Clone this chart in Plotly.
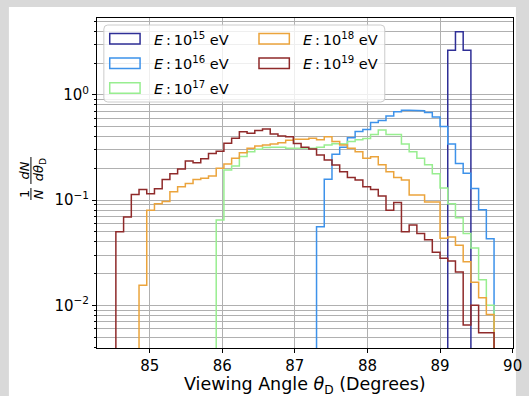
import numpy as np
import plotly.graph_objects as go

# ---------------- data ----------------
BIN_START, BIN_STOP, N_BINS = 84.534, 89.744, 49      # common histogram grid (degrees)

energy_labels = ["15", "16", "17", "18", "19"]        # E = 10^x eV
first_bin = [43, 26, 13, 3, 0]                         # index of first non-empty bin per series

density_1e15 = [2.65, 3.96, 2.65]
density_1e16 = [0.0557, 0.158, 0.272, 0.318, 0.390, 0.447, 0.468, 0.545, 0.570, 0.630,
                0.690, 0.712, 0.712, 0.705, 0.680, 0.615, 0.500, 0.340, 0.223, 0.180,
                0.129, 0.081, 0.043]
density_1e17 = [0.0645, 0.193, 0.211, 0.259, 0.288, 0.304, 0.315, 0.318, 0.318, 0.311,
                0.315, 0.315, 0.312, 0.318, 0.334, 0.345, 0.340, 0.360, 0.373, 0.385,
                0.420, 0.464, 0.420, 0.420, 0.340, 0.288, 0.249, 0.216, 0.178, 0.130,
                0.092, 0.068, 0.048, 0.035, 0.0175, 0.0100]
density_1e18 = [0.0155, 0.080, 0.092, 0.097, 0.120, 0.134, 0.144, 0.157, 0.161, 0.169,
                0.200, 0.220, 0.249, 0.282, 0.311, 0.327, 0.334, 0.341, 0.350, 0.370,
                0.378, 0.378, 0.387, 0.373, 0.400, 0.360, 0.334, 0.311, 0.288, 0.249,
                0.258, 0.216, 0.186, 0.164, 0.155, 0.112, 0.112, 0.096, 0.096, 0.0433,
                0.0446, 0.0373, 0.0260, 0.0166, 0.0118, 0.0082]
density_1e19 = [0.050, 0.069, 0.113, 0.126, 0.115, 0.128, 0.157, 0.178, 0.197, 0.235,
                0.226, 0.247, 0.277, 0.290, 0.347, 0.387, 0.445, 0.432, 0.457, 0.472,
                0.425, 0.405, 0.400, 0.345, 0.318, 0.305, 0.268, 0.240, 0.215, 0.186,
                0.164, 0.155, 0.134, 0.126, 0.109, 0.080, 0.095, 0.050, 0.058, 0.048,
                0.042, 0.032, 0.028, 0.0264, 0.0207, 0.0065, 0.0100, 0.0055, 0.0055]

series = [density_1e15, density_1e16, density_1e17, density_1e18, density_1e19]
colors = ["#2f2f96", "#3d92ea", "#98ee90", "#eba43c", "#8f2a2a"]

x_ticks = [85, 86, 87, 88, 89, 90]
y_ticks = [0.01, 0.1, 1]
y_ticktext = ["10<sup>−2</sup>", "10<sup>−1</sup>", "10<sup>0</sup>"]
y_minor = [m * 10.0 ** d for d in (-3, -2, -1, 0) for m in range(2, 10)]

# ---------------- layout helpers ----------------
W, H = 529, 396
L, R, T, B = 97, 7, 18, 48
PW, PH = W - L - R, H - T - B
FONT = "DejaVu Sans"


def px(x):
    return (x - L) / PW


def py(y):
    return (H - B - y) / PH


edges = np.linspace(BIN_START, BIN_STOP, N_BINS + 1)
FLOOR = 1e-5

fig = go.Figure()
for vals, start, col in zip(series, first_bin, colors):
    e = edges[start:start + len(vals) + 1]
    xs = np.repeat(e, 2)
    ys = np.concatenate([[FLOOR], np.repeat(vals, 2), [FLOOR]])
    fig.add_trace(go.Scatter(x=xs, y=ys, mode="lines",
                             line=dict(color=col, width=1.5),
                             showlegend=False, hoverinfo="skip"))

shapes = []
annotations = []

# white figure area on grey page
shapes.append(dict(type="rect", xref="paper", yref="paper",
                   x0=px(7), x1=px(525), y0=py(7), y1=py(H + 5),
                   fillcolor="white", line=dict(width=0), layer="below"))


def rrect_path(x0, y0, x1, y1, r):
    return (f"M {px(x0 + r)},{py(y0)} L {px(x1 - r)},{py(y0)} "
            f"Q {px(x1)},{py(y0)} {px(x1)},{py(y0 + r)} L {px(x1)},{py(y1 - r)} "
            f"Q {px(x1)},{py(y1)} {px(x1 - r)},{py(y1)} L {px(x0 + r)},{py(y1)} "
            f"Q {px(x0)},{py(y1)} {px(x0)},{py(y1 - r)} L {px(x0)},{py(y0 + r)} "
            f"Q {px(x0)},{py(y0)} {px(x0 + r)},{py(y0)} Z")


# legend box
shapes.append(dict(type="path", xref="paper", yref="paper",
                   path=rrect_path(104, 25, 391, 102, 4),
                   fillcolor="rgba(255,255,255,0.8)",
                   line=dict(color="#cccccc", width=1), layer="above"))

leg_cols = [(110, 153), (110, 153), (110, 153), (262.5, 305), (262.5, 305)]
leg_rows = [38.7, 63.3, 88.0, 38.7, 63.3]
for lab, col, (hx, tx), ry in zip(energy_labels, colors, leg_cols, leg_rows):
    shapes.append(dict(type="rect", xref="paper", yref="paper",
                       x0=px(hx), x1=px(hx + 31), y0=py(ry + 5.2), y1=py(ry - 5.2),
                       fillcolor="rgba(0,0,0,0)", line=dict(color=col, width=1.5),
                       layer="above"))
    annotations.append(dict(xref="paper", yref="paper", x=px(tx), y=py(ry),
                            xanchor="left", yanchor="middle", showarrow=False,
                            text=f"<i>E</i>\u2009:\u200910<sup>{lab}</sup> eV",
                            font=dict(family=FONT, size=14.5, color="black")))

# x-axis title
annotations.append(dict(xref="paper", yref="paper", x=0.5, y=py(385),
                        xanchor="center", yanchor="middle", showarrow=False,
                        text="Viewing Angle <i>θ</i><sub>D</sub> (Degrees)",
                        font=dict(family=FONT, size=17.5, color="black")))

# y-axis title as rotated fraction  (1/N)(dN/dθ_D)
frac_font = dict(family=FONT, size=13, color="black")
for txt, xx, yy in [("1", 22.5, 194), ("<i>N</i>", 37, 194),
                    ("<i>dN</i>", 22.5, 170.5), ("<i>dθ</i><sub>D</sub>", 38.5, 169.5)]:
    annotations.append(dict(xref="paper", yref="paper", x=px(xx), y=py(yy),
                            xanchor="center", yanchor="middle", showarrow=False,
                            textangle=-90, text=txt, font=frac_font))
for y0, y1 in [(188.0, 200.0), (157.0, 184.0)]:
    shapes.append(dict(type="line", xref="paper", yref="paper",
                       x0=px(29.5), x1=px(29.5), y0=py(y0), y1=py(y1),
                       line=dict(color="black", width=1)))

GRID = "#b0b0b0"
fig.update_layout(
    width=W, height=H,
    margin=dict(l=L, r=R, t=T, b=B),
    paper_bgcolor="#d9d9d9",
    plot_bgcolor="white",
    font=dict(family=FONT, color="black"),
    showlegend=False,
    shapes=shapes,
    annotations=annotations,
    xaxis=dict(range=[84.274, 90.005], tickmode="array", tickvals=x_ticks,
               ticks="outside", ticklen=4, tickwidth=1, tickcolor="black",
               showline=True, linecolor="black", linewidth=1, mirror=True,
               showgrid=True, gridcolor=GRID, gridwidth=1, zeroline=False,
               ticklabeloverflow="allow",
               tickfont=dict(family=FONT, size=15, color="black")),
    yaxis=dict(type="log", range=[-2.405, 0.729], tickmode="array",
               tickvals=y_ticks, ticktext=y_ticktext,
               ticks="outside", ticklen=4, tickwidth=1, tickcolor="black",
               showline=True, linecolor="black", linewidth=1, mirror=True,
               showgrid=True, gridcolor=GRID, gridwidth=1, zeroline=False,
               tickfont=dict(family=FONT, size=15, color="black"),
               minor=dict(tickmode="array", tickvals=y_minor, ticks="outside",
                          ticklen=2, tickwidth=1, tickcolor="black",
                          showgrid=True, gridcolor=GRID, gridwidth=1)),
)

fig.write_html("out.html")
